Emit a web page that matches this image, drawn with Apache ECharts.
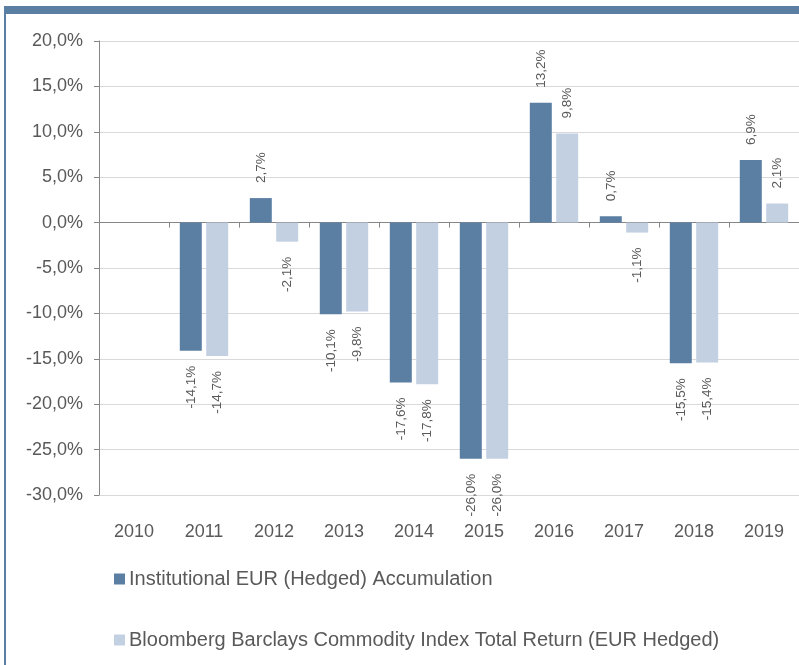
<!DOCTYPE html>
<html>
<head>
<meta charset="utf-8">
<script src="https://cdn.jsdelivr.net/npm/echarts@6/dist/echarts.min.js"></script>
<style>
    html, body { margin: 0; padding: 0; background: #fff; }
    #frame {
        position: absolute; left: 4px; top: 6px; width: 795px; height: 659px;
        border-top: 8px solid #5b7fa3; border-left: 2px solid #5b7fa3; box-sizing: border-box;
    }
    #main { position: absolute; left: 0; top: 0; width: 799px; height: 665px; }
</style>
</head>
<body>
<div id="frame"></div>
<div id="main"></div>
<script>
    // chart data
    var years = ['2010', '2011', '2012', '2013', '2014', '2015', '2016', '2017', '2018', '2019'];
    var fundName = 'Institutional EUR (Hedged) Accumulation';
    var indexName = 'Bloomberg Barclays Commodity Index Total Return (EUR Hedged)';
    var fundValues = [null, -14.1, 2.7, -10.1, -17.6, -26.0, 13.2, 0.7, -15.5, 6.9];
    var indexValues = [null, -14.7, -2.1, -9.8, -17.8, -26.0, 9.8, -1.1, -15.4, 2.1];

    function pct(v) {
        return v.toFixed(1).replace('.', ',') + '%';
    }

    // label above positive bars, below negative ones
    function withLabels(values) {
        return values.map(function (v) {
            if (v === null) {
                return null;
            }
            var pos = v >= 0;
            return {
                value: v,
                label: {
                    position: pos ? 'top' : 'bottom',
                    align: pos ? 'left' : 'right',
                    verticalAlign: 'middle'
                }
            };
        });
    }

    var labelStyle = {
        show: true,
        rotate: 90,
        distance: 15,
        color: '#595959',
        fontSize: 13.5,
        fontFamily: 'Liberation Sans',
        formatter: function (p) { return pct(p.value); }
    };

    var chart = echarts.init(document.getElementById('main'));
    var option = {
        animation: false,
        textStyle: { fontFamily: 'Liberation Sans' },
        grid: {
            left: 99,
            top: 41,
            right: -10,
            bottom: 170
        },
        legend: {
            orient: 'vertical',
            left: 109,
            top: 564,
            itemGap: 41,
            icon: 'rect',
            itemWidth: 11,
            itemHeight: 11,
            textStyle: { color: '#595959', fontSize: 20, fontFamily: 'Liberation Sans', padding: [0, 0, 0, -1] },
            data: [fundName, indexName]
        },
        xAxis: [
            {
                // labels along the bottom
                type: 'category',
                data: years,
                axisLine: { show: false, onZero: false },
                axisTick: { show: false },
                axisLabel: { color: '#595959', fontSize: 18, margin: 28 }
            },
            {
                // axis line and ticks at 0%
                type: 'category',
                data: years,
                position: 'bottom',
                axisLine: { show: true, onZero: true, lineStyle: { color: '#868686' } },
                axisTick: { show: true, length: 5, lineStyle: { color: '#868686' } },
                axisLabel: { show: false }
            }
        ],
        yAxis: {
            type: 'value',
            min: -30,
            max: 20,
            interval: 5,
            axisLine: { show: true, lineStyle: { color: '#868686' } },
            axisTick: { show: true, length: 5, lineStyle: { color: '#868686' } },
            axisLabel: {
                color: '#595959',
                fontSize: 18,
                margin: 16,
                formatter: function (v) { return pct(v); }
            },
            splitLine: { lineStyle: { color: '#d9d9d9', width: 1 } }
        },
        series: [
            {
                name: fundName,
                type: 'bar',
                xAxisIndex: 0,
                data: withLabels(fundValues),
                barWidth: 22,
                barGap: '20%',
                itemStyle: { color: '#5b7fa3' },
                label: labelStyle
            },
            {
                name: indexName,
                type: 'bar',
                xAxisIndex: 0,
                data: withLabels(indexValues),
                barWidth: 22,
                barGap: '20%',
                itemStyle: { color: '#c3d0e2' },
                label: labelStyle
            }
        ]
    };
    chart.setOption(option);
</script>
</body>
</html>
